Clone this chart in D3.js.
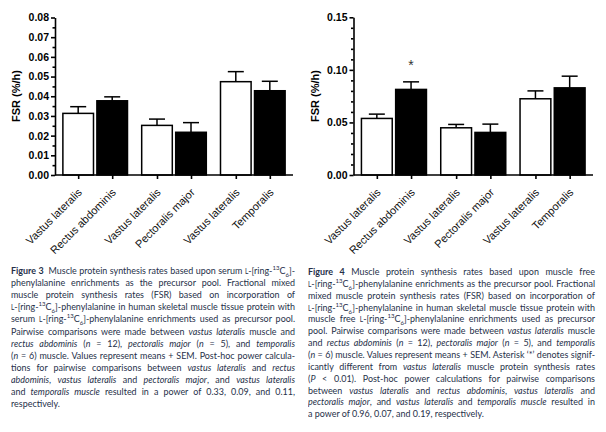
<!DOCTYPE html>
<html>
<head>
<meta charset="utf-8">
<script src="https://cdn.jsdelivr.net/npm/d3@7"></script>
<style>
  html, body { margin: 0; padding: 0; background: #fff; }
  #page { position: relative; width: 606px; height: 432px; overflow: hidden; }
  svg { position: absolute; left: 0; top: 0; }
  .cap { position: absolute; font-family: Lato, "Liberation Sans", sans-serif; font-size: 9.6px;
         color: #263049; transform-origin: 0 0; }
  .cap .ln { position: absolute; left: 0; right: 0; height: 12px; line-height: 12px;
             text-align: justify; text-align-last: justify; }
  .cap .ln.last { text-align-last: left; }
  .cap sup, .cap sub { font-size: 6.5px; line-height: 0; }
  .cap .sc { font-variant: small-caps; }
  .cap b { font-weight: 700; }
</style>
</head>
<body>
<div id="page"></div>
<script>
var labels = ["Vastus lateralis", "Rectus abdominis", "Vastus lateralis",
              "Pectoralis major", "Vastus lateralis", "Temporalis"];

// Figure 3: serum precursor
var fig3Mean = [0.0313, 0.0377, 0.0252, 0.0217, 0.0474, 0.0428];
var fig3Sem  = [0.0034, 0.0020, 0.0032, 0.0049, 0.0051, 0.0048];
var fig3Ticks = [0, 0.01, 0.02, 0.03, 0.04, 0.05, 0.06, 0.07, 0.08];
var fig3Minor = [0.005, 0.015, 0.025, 0.035, 0.045, 0.055, 0.065, 0.075];

// Figure 4: muscle free precursor
var fig4Mean = [0.0538, 0.0814, 0.0449, 0.0405, 0.0725, 0.0829];
var fig4Sem  = [0.0041, 0.0072, 0.0032, 0.0079, 0.0075, 0.0111];
var fig4Sig  = [false, true, false, false, false, false];
var fig4Ticks = [0, 0.05, 0.10, 0.15];
var fig4Minor = [0.01, 0.02, 0.03, 0.04, 0.06, 0.07, 0.08, 0.09, 0.11, 0.12, 0.13, 0.14];

var L = '<span class="sc">l</span>-[ring-<sup>13</sup>C<sub>6</sub>]';

var cap3 = [
  '<b>Figure 3</b>&nbsp; Muscle protein synthesis rates based upon serum ' + L + '-',
  'phenylalanine enrichments as the precursor pool. Fractional mixed',
  'muscle protein synthesis rates (FSR) based on incorporation of',
  L + '-phenylalanine in human skeletal muscle tissue protein with',
  'serum ' + L + '-phenylalanine enrichments used as precursor pool.',
  'Pairwise comparisons were made between <i>vastus lateralis</i> muscle and',
  '<i>rectus abdominis</i> (<i>n</i> = 12), <i>pectoralis major</i> (<i>n</i> = 5), and <i>temporalis</i>',
  '(<i>n</i> = 6) muscle. Values represent means + SEM. Post-hoc power calcula-',
  'tions for pairwise comparisons between <i>vastus lateralis</i> and <i>rectus</i>',
  '<i>abdominis</i>, <i>vastus lateralis</i> and <i>pectoralis major</i>, and <i>vastus lateralis</i>',
  'and <i>temporalis muscle</i> resulted in a power of 0.33, 0.09, and 0.11,',
  'respectively.'
];

var cap4 = [
  '<b>Figure 4</b> Muscle protein synthesis rates based upon muscle free',
  L + '-phenylalanine enrichments as the precursor pool. Fractional',
  'mixed muscle protein synthesis rates (FSR) based on incorporation of',
  L + '-phenylalanine in human skeletal muscle tissue protein with',
  'muscle free ' + L + '-phenylalanine enrichments used as precursor',
  'pool. Pairwise comparisons were made between <i>vastus lateralis</i> muscle',
  'and <i>rectus abdominis</i> (<i>n</i> = 12), <i>pectoralis major</i> (<i>n</i> = 5), and <i>temporalis</i>',
  '(<i>n</i> = 6) muscle. Values represent means + SEM. Asterisk \u2018*\u2019 denotes signif-',
  'icantly different from <i>vastus lateralis</i> muscle protein synthesis rates',
  '(<i>P</i> &lt; 0.01). Post-hoc power calculations for pairwise comparisons',
  'between <i>vastus lateralis</i> and <i>rectus abdominis</i>, <i>vastus lateralis</i> and',
  '<i>pectoralis major</i>, and <i>vastus lateralis</i> and <i>temporalis muscle</i> resulted in',
  'a power of 0.96, 0.07, and 0.19, respectively.'
];

var page = d3.select("#page");
var svg = page.append("svg").attr("width", 606).attr("height", 432);

var axisY0 = 175;

drawChart({left: 55, right: 293, top: 17.5, max: 0.08, ticks: fig3Ticks, minor: fig3Minor,
           mean: fig3Mean, sem: fig3Sem, sig: null, labelX: 19.5});
drawChart({left: 353.5, right: 593, top: 17.3, max: 0.15, ticks: fig4Ticks, minor: fig4Minor,
           mean: fig4Mean, sem: fig4Sem, sig: fig4Sig, labelX: 318.5});

caption(cap3, 11, 265, 284, 12.1);
caption(cap4, 308, 266, 287, 11.85);

function drawChart(o){
    var g = svg.append("g");

    var y = d3.scaleLinear().domain([0, o.max]).range([axisY0, o.top]);

    var outer = d3.scaleBand().domain([0, 1, 2])
                  .range([o.left, o.right])
                  .paddingInner(0.18).paddingOuter(0.1);
    var inner = d3.scaleBand().domain([0, 1])
                  .range([0, outer.bandwidth()])
                  .paddingInner(0.1).paddingOuter(0);

    var idx = d3.range(labels.length);
    var barX = i => outer(Math.floor(i / 2)) + inner(i % 2);
    var xc = d3.scaleOrdinal().domain(idx).range(idx.map(i => barX(i) + inner.bandwidth() / 2));

    // error whiskers first, bar outline covers the base
    var eb = g.selectAll(".err").data(idx).enter().append("g").attr("class", "err")
              .attr("stroke", "#000").attr("stroke-width", 1.5);
    eb.append("line")
      .attr("x1", i => xc(i)).attr("x2", i => xc(i))
      .attr("y1", i => y(o.mean[i])).attr("y2", i => y(o.mean[i] + o.sem[i]));
    eb.append("line")
      .attr("x1", i => xc(i) - 8).attr("x2", i => xc(i) + 8)
      .attr("y1", i => y(o.mean[i] + o.sem[i])).attr("y2", i => y(o.mean[i] + o.sem[i]));

    g.selectAll(".bar").data(idx).enter().append("rect")
     .attr("class", "bar")
     .attr("x", i => barX(i))
     .attr("y", i => y(o.mean[i]))
     .attr("width", inner.bandwidth())
     .attr("height", i => axisY0 - y(o.mean[i]))
     .attr("fill", i => i % 2 ? "#000" : "#fff")
     .attr("stroke", "#000")
     .attr("stroke-width", 1.5);

    if (o.sig){
        g.selectAll(".sig").data(idx.filter(i => o.sig[i])).enter().append("text")
         .attr("class", "sig")
         .attr("x", i => xc(i))
         .attr("y", i => y(o.mean[i] + o.sem[i]) - 12)
         .attr("text-anchor", "middle")
         .attr("font-family", "Liberation Sans, Arial, sans-serif")
         .attr("font-size", 14)
         .attr("fill", "#333")
         .text("*");
    }

    // y axis with minor ticks
    var ya = g.append("g").attr("transform", "translate(" + o.left + ",0)")
              .call(d3.axisLeft(y).tickValues(o.ticks).tickFormat(d3.format(".2f"))
                                  .tickSize(4).tickSizeOuter(0).tickPadding(2));
    ya.append("g").call(d3.axisLeft(y).tickValues(o.minor).tickFormat("").tickSize(2.5).tickSizeOuter(0))
      .select(".domain").remove();
    ya.selectAll("path, line").attr("stroke", "#000").attr("stroke-width", 1.6);
    ya.selectAll("text").attr("font-family", "Liberation Sans, Arial, sans-serif")
      .attr("font-size", 10.5).attr("font-weight", "bold").attr("fill", "#000");

    // x axis, ticks at bar centres
    var xa = g.append("g").attr("transform", "translate(0," + axisY0 + ")")
              .call(d3.axisBottom(xc).tickFormat(i => labels[i]).tickSize(4).tickSizeOuter(0));
    xa.select(".domain").remove();
    xa.append("line").attr("x1", o.left).attr("x2", o.right)
      .attr("stroke", "#000").attr("stroke-width", 1.6);
    xa.selectAll(".tick line").attr("stroke", "#000").attr("stroke-width", 1.6);
    xa.selectAll(".tick text")
      .attr("x", 0).attr("y", 0).attr("dy", 0)
      .attr("text-anchor", "end")
      .attr("transform", "translate(4,18) rotate(-45)")
      .attr("font-family", "Liberation Sans, Arial, sans-serif")
      .attr("font-size", 11).attr("fill", "#111");

    g.append("text")
     .attr("transform", "translate(" + o.labelX + "," + 96 + ") rotate(-90)")
     .attr("text-anchor", "middle")
     .attr("font-family", "Liberation Sans, Arial, sans-serif")
     .attr("font-size", 11).attr("font-weight", "bold")
     .text("FSR (%/h)");
}

function caption(lines, left, top, width, lineH){
    var box = page.append("div").attr("class", "cap")
                  .style("left", left + "px").style("top", top + "px");
    // natural line widths, to pick a horizontal squeeze like the narrow original face
    var probe = box.selectAll("div.probe").data(lines).enter().append("div")
                   .attr("class", "probe")
                   .append("span").style("white-space", "nowrap")
                   .html(d => d);
    var maxW = d3.max(probe.nodes(), n => n.getBoundingClientRect().width);
    box.selectAll("*").remove();
    var s = Math.min(0.95, width / (maxW + 2));
    box.style("width", (width / s) + "px").style("transform", "scaleX(" + s + ")");
    box.selectAll(".ln").data(lines).enter().append("div")
       .attr("class", (d, i) => "ln" + (i == lines.length - 1 ? " last" : ""))
       .style("top", (d, i) => (i * lineH) + "px")
       .html(d => d);
}
</script>
</body>
</html>
